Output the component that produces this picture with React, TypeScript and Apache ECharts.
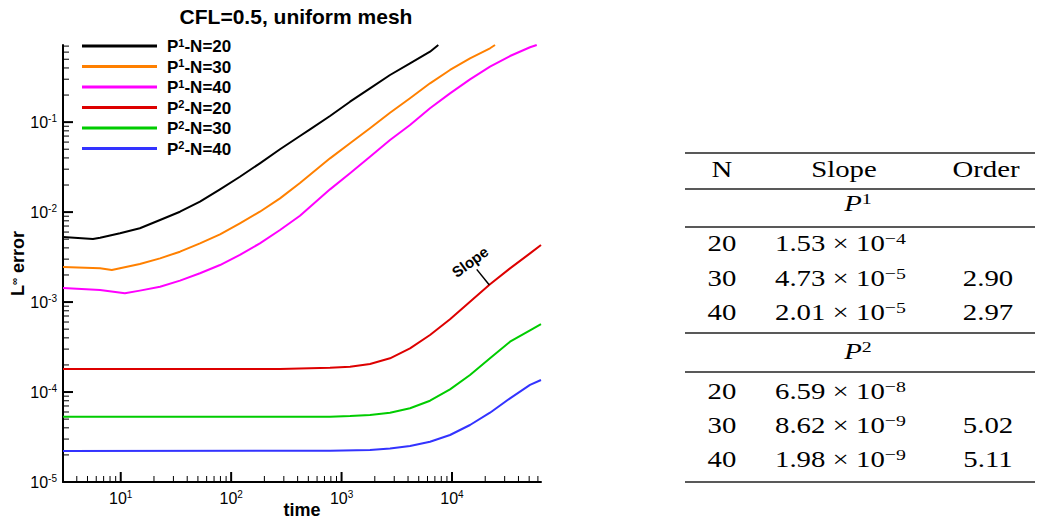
import React, { useEffect, useRef } from "react";
import * as echarts from "echarts";

// ---------- data ----------
const chartTitle = "CFL=0.5, uniform mesh";
const xAxisName = "time";
const seriesNames = ["P¹-N=20", "P¹-N=30", "P¹-N=40", "P²-N=20", "P²-N=30", "P²-N=40"];
const seriesColors = ["#000000", "#ff8000", "#ff00ff", "#dd0000", "#00cc00", "#3333ff"];

const p1n20: [number, number][] = [
  [3, 5.29e-3], [5.6, 5.02e-3], [6.5, 5.19e-3], [9.85, 5.81e-3], [14.9, 6.61e-3], [22.7, 8.17e-3],
  [34.4, 1.01e-2], [52.2, 1.305e-2], [79.3, 1.792e-2], [120, 2.473e-2], [182, 3.485e-2], [277, 4.99e-2],
  [420, 7.01e-2], [518, 8.32e-2], [786, 0.117], [1193, 0.1687], [1809, 0.2377], [2747, 0.3341],
  [4168, 0.4507], [6324, 0.6064], [7518, 0.72],
];
const p1n30: [number, number][] = [
  [3, 2.45e-3], [6.5, 2.37e-3], [8.3, 2.27e-3], [14.9, 2.65e-3], [22.7, 3.06e-3], [34.4, 3.63e-3],
  [52.2, 4.5e-3], [79.3, 5.66e-3], [120, 7.5e-3], [182, 1.01e-2], [277, 1.42e-2], [420, 2.11e-2],
  [786, 3.96e-2], [1193, 5.82e-2], [1809, 8.54e-2], [2747, 0.1273], [4168, 0.184],
  [6324, 0.27], [9598, 0.38], [14560, 0.512], [22100, 0.662], [24530, 0.72],
];
const p1n40: [number, number][] = [
  [3, 1.43e-3], [6.5, 1.36e-3], [10.9, 1.25e-3], [14.9, 1.34e-3], [22.7, 1.48e-3], [34.4, 1.73e-3],
  [52.2, 2.09e-3], [79.3, 2.58e-3], [120, 3.34e-3], [182, 4.5e-3], [277, 6.32e-3], [420, 9.12e-3],
  [786, 1.79e-2], [1193, 2.7e-2], [1809, 4.13e-2], [2747, 6.33e-2], [4168, 9.29e-2],
  [6324, 0.1425], [9598, 0.209], [14560, 0.299], [22100, 0.413], [33550, 0.543], [50900, 0.679],
  [58550, 0.72],
];
const p2n20: [number, number][] = [
  [3, 1.8e-4], [277, 1.8e-4], [786, 1.86e-4], [1193, 1.91e-4], [1809, 2.05e-4], [2747, 2.37e-4],
  [4168, 3.06e-4], [6324, 4.3e-4], [9598, 6.43e-4], [14560, 1.01e-3], [22100, 1.575e-3],
  [33550, 2.37e-3], [50900, 3.48e-3], [64000, 4.31e-3],
];
const p2n30: [number, number][] = [
  [3, 5.3e-5], [786, 5.32e-5], [1193, 5.4e-5], [1809, 5.55e-5], [2747, 5.89e-5], [4168, 6.6e-5],
  [6324, 8.01e-5], [9598, 1.072e-4], [14560, 1.546e-4], [22100, 2.37e-4], [33550, 3.63e-4],
  [50900, 4.86e-4], [64000, 5.7e-4],
];
const p2n40: [number, number][] = [
  [3, 2.21e-5], [786, 2.23e-5], [1809, 2.27e-5], [2747, 2.36e-5], [4168, 2.51e-5], [6324, 2.8e-5],
  [9598, 3.33e-5], [14560, 4.3e-5], [22100, 5.89e-5], [33550, 8.51e-5], [50900, 1.2e-4], [64000, 1.36e-4],
];
const allSeries = [p1n20, p1n30, p1n40, p2n20, p2n30, p2n40];

const xMin = 3;
const xMax = 64000;
const yMin = 1e-5;
const yMax = 0.72;
const xDecades = [1, 10, 100, 1000, 10000];
const yDecades = [1e-5, 1e-4, 1e-3, 1e-2, 1e-1];
const minorMultipliers = [2, 3, 4, 5, 6, 7, 8, 9];

// slope annotation (data coordinates)
const slopeLabel = "Slope";
const slopeLabelAt: [number, number] = [14560, 2.81e-3];
const slopeTickFrom: [number, number] = [16750, 2.31e-3];
const slopeTickTo: [number, number] = [21790, 1.55e-3];

// table
const tableHeader = ["N", "Slope", "Order"];
const p1TableN = ["20", "30", "40"];
const p1TableMant = ["1.53", "4.73", "2.01"];
const p1TableExp = ["−4", "−5", "−5"];
const p1TableOrder = ["", "2.90", "2.97"];
const p2TableN = ["20", "30", "40"];
const p2TableMant = ["6.59", "8.62", "1.98"];
const p2TableExp = ["−8", "−9", "−9"];
const p2TableOrder = ["", "5.02", "5.11"];

// ---------- styling ----------
const SANS = "'Liberation Sans', Arial, Helvetica, sans-serif";
const SERIF = "'Liberation Serif', 'Times New Roman', serif";

const GRID = { left: 63, top: 45, width: 478, height: 437 };

function isDecade(v: number) {
  const l = Math.log10(v);
  return Math.abs(l - Math.round(l)) < 1e-6;
}
function decadeLabel(v: number) {
  if (!isDecade(v)) return "";
  return `{b|10}{s|${Math.round(Math.log10(v))}}`;
}

function buildTicks() {
  const data: number[][] = [];
  for (const d of xDecades) {
    if (d >= xMin && d <= xMax) data.push([d, yMin, 10, 0, 2]);
    for (const m of minorMultipliers) {
      const v = d * m;
      if (v > xMin && v < xMax) data.push([v, yMin, 6, 0, 1]);
    }
  }
  for (const d of yDecades) {
    if (d >= yMin && d <= yMax) data.push([xMin, d, 10, 1, 2]);
    for (const m of minorMultipliers) {
      const v = d * m;
      if (v > yMin && v < yMax) data.push([xMin, v, 6, 1, 1]);
    }
  }
  return data;
}

function legendFormatter(name: string) {
  const sup = name.includes("¹") ? "1" : "2";
  const rest = name.replace(/^P[¹²]/, "");
  return `{b|P}{s|${sup}}{b|${rest}}`;
}

function buildTable(): any[] {
  const els: any[] = [];
  const sx = 1.28;
  const fs = 22.5;
  const rich = {
    m: { fontFamily: SERIF, fontSize: fs, lineHeight: 26, fill: "#000" },
    s: { fontFamily: SERIF, fontSize: 15.5, verticalAlign: "top", lineHeight: 15, fill: "#000" },
    p: { fontFamily: SERIF, fontSize: fs, fontStyle: "italic", lineHeight: 26, fill: "#000" },
  };
  const text = (x: number, y: number, t: string, align: string) => ({
    type: "text",
    x,
    y,
    scaleX: sx,
    silent: true,
    style: { text: t, align, verticalAlign: "middle", fontFamily: SERIF, fontSize: fs, fill: "#000", rich },
  });
  const hline = (y: number, w: number) => ({
    type: "line",
    silent: true,
    shape: { x1: 685, y1: y, x2: 1035, y2: y },
    style: { stroke: "#222", lineWidth: w },
  });
  const colN = 722;
  const colSlope = 775;
  const colOrder = 988;
  els.push(text(colN, 170, `{m|${tableHeader[0]}}`, "center"));
  els.push(text(844, 170, `{m|${tableHeader[1]}}`, "center"));
  els.push(text(colOrder - 2, 170, `{m|${tableHeader[2]}}`, "center"));
  els.push(text(858, 204, `{p|P}{s|1}`, "center"));
  els.push(text(858, 352, `{p|P}{s|2}`, "center"));
  const groups = [
    { n: p1TableN, m: p1TableMant, e: p1TableExp, o: p1TableOrder, ys: [244, 279, 313] },
    { n: p2TableN, m: p2TableMant, e: p2TableExp, o: p2TableOrder, ys: [392, 426, 460] },
  ];
  for (const g of groups) {
    g.ys.forEach((y, i) => {
      els.push(text(colN, y, `{m|${g.n[i]}}`, "center"));
      els.push(text(colSlope, y, `{m|${g.m[i]} × 10}{s|${g.e[i]}}`, "left"));
      if (g.o[i]) els.push(text(colOrder, y, `{m|${g.o[i]}}`, "center"));
    });
  }
  els.push(hline(153, 1.6));
  els.push(hline(189, 1.3));
  els.push(hline(227, 1.3));
  els.push(hline(333, 1.3));
  els.push(hline(372, 1.3));
  els.push(hline(482, 1.6));
  return els;
}

const labelRich = {
  b: { fontFamily: SANS, fontSize: 16, color: "#000", lineHeight: 18 },
  s: { fontFamily: SANS, fontSize: 10, color: "#000", verticalAlign: "top", lineHeight: 10 },
};

export default function App() {
  const ref = useRef<HTMLDivElement>(null);
  useEffect(() => {
    if (!ref.current) return;
    const chart = echarts.init(ref.current, null, { renderer: "svg" });
    const lineSeries = allSeries.map((d, i) => ({
      name: seriesNames[i],
      type: "line",
      data: d,
      showSymbol: false,
      symbol: "none",
      smooth: false,
      lineStyle: { color: seriesColors[i], width: 2, join: "round" },
      itemStyle: { color: seriesColors[i] },
      z: 3,
      ...(i === 3
        ? {
            markLine: {
              silent: true,
              symbol: ["none", "none"],
              label: { show: false },
              lineStyle: { color: "#000", width: 1.5, type: "solid" },
              data: [[{ coord: slopeTickFrom }, { coord: slopeTickTo }]],
            },
          }
        : {}),
    }));
    chart.setOption({
      animation: false,
      backgroundColor: "#ffffff",
      title: {
        text: chartTitle,
        left: 291,
        top: 1,
        textAlign: "center",
        textStyle: { fontFamily: SANS, fontSize: 21, fontWeight: "bold", color: "#000" },
      },
      legend: {
        data: seriesNames,
        orient: "vertical",
        left: 82,
        top: 37,
        padding: 0,
        itemWidth: 75,
        itemHeight: 3,
        itemGap: 2.5,
        icon: "rect",
        formatter: legendFormatter,
        textStyle: {
          padding: [0, 0, 0, 5],
          rich: {
            b: { fontFamily: SANS, fontSize: 17, fontWeight: "bold", color: "#000", lineHeight: 18, verticalAlign: "bottom" },
            s: { fontFamily: SANS, fontSize: 11, fontWeight: "bold", color: "#000", verticalAlign: "top", lineHeight: 11 },
          },
        },
      },
      grid: { ...GRID, containLabel: false, outerBoundsMode: "none" },
      xAxis: {
        type: "log",
        logBase: 10,
        min: xMin,
        max: xMax,
        name: xAxisName,
        nameLocation: "middle",
        nameGap: 19,
        nameMoveOverlap: false,
        nameTextStyle: { fontFamily: SANS, fontSize: 18, fontWeight: "bold", color: "#000" },
        axisLine: { onZero: false, lineStyle: { color: "#000", width: 2 } },
        axisTick: { show: false },
        minorTick: { show: false },
        splitLine: { show: false },
        axisLabel: { formatter: decadeLabel, margin: 7, rich: labelRich },
      },
      yAxis: {
        type: "log",
        logBase: 10,
        min: yMin,
        max: yMax,
        name: "{b|L}{s|∞}{b| error}",
        nameLocation: "middle",
        nameRotate: 90,
        nameGap: 36,
        nameMoveOverlap: false,
        nameTextStyle: {
          rich: {
            b: { fontFamily: SANS, fontSize: 18, fontWeight: "bold", color: "#000", lineHeight: 18 },
            s: { fontFamily: SANS, fontSize: 10, fontWeight: "bold", color: "#000", verticalAlign: "top", lineHeight: 10 },
          },
        },
        axisLine: { onZero: false, lineStyle: { color: "#000", width: 2 } },
        axisTick: { show: false },
        minorTick: { show: false },
        splitLine: { show: false },
        axisLabel: {
          formatter: decadeLabel,
          margin: 6,
          rich: labelRich,
          verticalAlignMinLabel: "middle",
          verticalAlignMaxLabel: "middle",
        },
      },
      series: [
        ...lineSeries,
        {
          name: "ticks",
          type: "custom",
          silent: true,
          clip: false,
          z: 2,
          data: buildTicks(),
          encode: { x: 0, y: 1 },
          renderItem: (_params: any, api: any) => {
            const pt = api.coord([api.value(0), api.value(1)]);
            const len = api.value(2) as number;
            const horiz = api.value(3) === 1;
            const w = api.value(4) as number;
            return {
              type: "line",
              shape: horiz
                ? { x1: pt[0], y1: pt[1], x2: pt[0] + len, y2: pt[1] }
                : { x1: pt[0], y1: pt[1], x2: pt[0], y2: pt[1] - len },
              style: { stroke: "#000", lineWidth: w },
            };
          },
        },
      ],
    });
    const p = chart.convertToPixel({ gridIndex: 0 } as any, slopeLabelAt) as number[];
    chart.setOption({
      graphic: [
        ...buildTable(),
        {
          type: "text",
          x: p[0],
          y: p[1],
          rotation: (36 * Math.PI) / 180,
          silent: true,
          style: {
            text: slopeLabel,
            align: "center",
            verticalAlign: "middle",
            fontFamily: SANS,
            fontSize: 15,
            fontWeight: "bold",
            fill: "#000",
          },
        },
      ],
    });
    return () => chart.dispose();
  }, []);
  return <div ref={ref} style={{ position: "fixed", left: 0, top: 0, width: 1037, height: 525 }} />;
}
